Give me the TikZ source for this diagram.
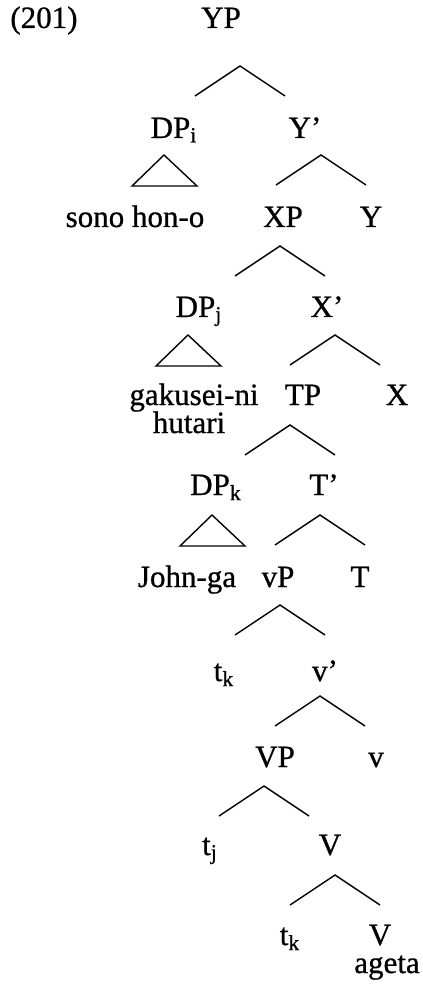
\documentclass[tikz,border=0pt]{standalone}
\usepackage{fontspec}
\setmainfont{Liberation Serif}[FakeBold=0.8]

\begin{document}
\begin{tikzpicture}[
  x=0.5pt, y=-0.5pt,
  font=\fontsize{15.5}{18}\selectfont,
  lbl/.style={anchor=base, inner sep=0pt},
  br/.style={line width=0.7pt},
  roof/.style={br, line join=miter}]
\useasboundingbox (0,0) rectangle (422,988);

% labels
\node[lbl, anchor=base west] (num) at (10,28) {(201)};
\node[lbl] (yp) at (221,28) {YP};
\node[lbl] (dpi) at (174,138) {DP\textsubscript{i}};
\node[lbl] (ybar) at (305,138) {Y'};
\node[lbl] (sono) at (135,227) {sono hon-o};
\node[lbl] (xp) at (283,227) {XP};
\node[lbl] (y) at (371,227) {Y};
\node[lbl] (dpj) at (199,317) {DP\textsubscript{j}};
\node[lbl] (xbar) at (327,317) {X'};
\node[lbl] (gak) at (194,405) {gakusei-ni};
\node[lbl] (tp) at (303,405) {TP};
\node[lbl] (x) at (397,405) {X};
\node[lbl] (hut) at (189,433) {hutari};
\node[lbl] (dpk) at (216,495) {DP\textsubscript{k}};
\node[lbl] (tbar) at (324,495) {T'};
\node[lbl] (john) at (187,587) {John-ga};
\node[lbl] (vp) at (278,587) {vP};
\node[lbl] (t) at (360,587) {T};
\node[lbl] (tk) at (224,681) {t\textsubscript{k}};
\node[lbl] (vbar) at (325,681) {v'};
\node[lbl] (bigvp) at (275,767) {VP};
\node[lbl] (v) at (376,767) {v};
\node[lbl] (tj) at (210,855) {t\textsubscript{j}};
\node[lbl] (vbarbig) at (330,855) {V};
\node[lbl] (tk2) at (290,945) {t\textsubscript{k}};
\node[lbl] (vhead) at (380,945) {V};
\node[lbl] (ageta) at (387,973) {ageta};

% branch points below each mother
\coordinate (yp-b) at (240,66);
\coordinate (ybar-b) at (321,155);
\coordinate (xp-b) at (280,246);
\coordinate (xbar-b) at (335,335);
\coordinate (tp-b) at (290,425);
\coordinate (tbar-b) at (320,515);
\coordinate (vp-b) at (280,605);
\coordinate (vbar-b) at (320,696);
\coordinate (bigvp-b) at (264,786);
\coordinate (vbarbig-b) at (335,875);
\coordinate (dpi-b) at (164,155);
\coordinate (dpj-b) at (188,335);
\coordinate (dpk-b) at (212,515);

% branches
\foreach \m in {yp,ybar,xp,xbar,tp,tbar,vp,vbar,bigvp,vbarbig}
  \draw[br] (\m-b) ++(-45,30) -- (\m-b) -- ++(45,30);

% roofs
\foreach \m in {dpi,dpj,dpk}
  \draw[roof] (\m-b) ++(-32,31) -- (\m-b) -- ++(33,31) -- cycle;
\end{tikzpicture}
\end{document}
